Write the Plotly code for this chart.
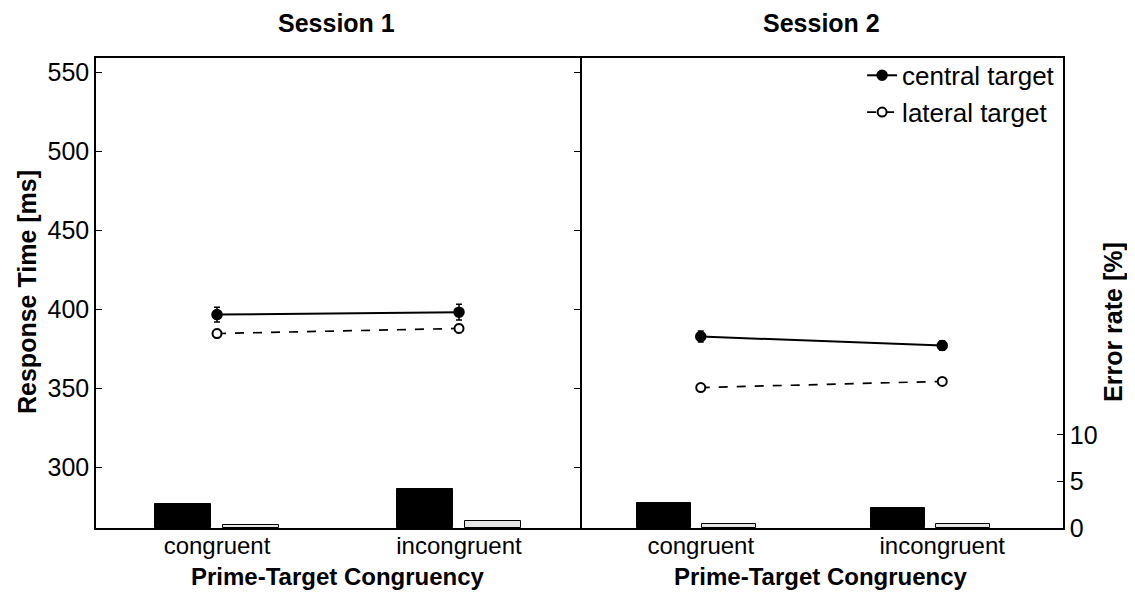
import plotly.graph_objects as go

# ---- data ----
categories = ["congruent", "incongruent"]
cat_pos = [1, 2]
sessions = ["Session 1", "Session 2"]

rt_central_s1 = [396.5, 398]
rt_central_s1_err = [4.7, 5.0]
rt_lateral_s1 = [384.5, 387.7]
rt_lateral_s1_err = [2.5, 2.5]

rt_central_s2 = [382.6, 376.9]
rt_central_s2_err = [3.5, 3]
rt_lateral_s2 = [350.3, 354.2]
rt_lateral_s2_err = [2, 2]

err_central_s1 = [2.6, 4.2]
err_lateral_s1 = [0.3, 0.75]
err_central_s2 = [2.7, 2.15]
err_lateral_s2 = [0.43, 0.43]

rt_ticks = [300, 350, 400, 450, 500, 550]
err_ticks = [0, 5, 10]

FONT = "Liberation Sans, Arial, sans-serif"
fig = go.Figure()

# bars (error rate)
for xa, ya, c, l in [("x", "y3", err_central_s1, err_lateral_s1),
                      ("x3", "y4", err_central_s2, err_lateral_s2)]:
    fig.add_trace(go.Bar(x=cat_pos, y=c, xaxis=xa, yaxis=ya, offset=-0.255, width=0.23,
                         marker=dict(color="black", line=dict(color="black", width=1)),
                         showlegend=False))
    fig.add_trace(go.Bar(x=cat_pos, y=l, xaxis=xa, yaxis=ya, offset=0.025, width=0.23,
                         marker=dict(color="#e6e6e6", line=dict(color="black", width=1)),
                         showlegend=False))

# lines (RT)
for xa, ya, cen, cen_e, lat, lat_e, show in [
        ("x", "y", rt_central_s1, rt_central_s1_err, rt_lateral_s1, rt_lateral_s1_err, False),
        ("x2", "y2", rt_central_s2, rt_central_s2_err, rt_lateral_s2, rt_lateral_s2_err, True)]:
    fig.add_trace(go.Scatter(x=cat_pos, y=cen, xaxis=xa, yaxis=ya, mode="lines+markers",
                             name="central target", showlegend=show,
                             line=dict(color="black", width=2),
                             marker=dict(symbol="circle", size=10, color="black",
                                         line=dict(color="black", width=1.5)),
                             error_y=dict(type="data", array=cen_e, color="black",
                                          thickness=1.5, width=3)))
    fig.add_trace(go.Scatter(x=cat_pos, y=lat, xaxis=xa, yaxis=ya, mode="lines+markers",
                             name="lateral target", showlegend=show,
                             line=dict(color="black", width=1.7, dash="dash"),
                             marker=dict(symbol="circle", size=9, color="white",
                                         line=dict(color="black", width=2)),
                             error_y=dict(type="data", array=lat_e, color="black",
                                          thickness=1.5, width=3)))

PW, PH = 967, 470
split = (580 - 96) / PW
tickf = dict(family=FONT, size=25, color="black")
xtickf = dict(family=FONT, size=24, color="black")
common_x = dict(showgrid=False, zeroline=False, showline=True, linecolor="black", linewidth=1.5,
                mirror=True, ticks="", tickvals=cat_pos, ticktext=categories, tickfont=xtickf,
                ticklabelstandoff=-5)
rt_range = [261.4, 558.9]

fig.update_layout(
    width=1135, height=597,
    margin=dict(l=88, r=80, t=50, b=77),
    plot_bgcolor="white", paper_bgcolor="white",
    font=dict(family=FONT, color="black"),
    xaxis=dict(domain=[0, split], range=[0.5, 2.5], **common_x),
    xaxis2=dict(domain=[split, 1], range=[0.5, 2.5], anchor="y2", **common_x),
    xaxis3=dict(domain=[split, 1], range=[0.502, 2.566], anchor="y4", overlaying="x2",
                visible=False),
    yaxis=dict(anchor="x", mirror="ticks", showgrid=False, zeroline=False, showline=True,
               linecolor="black", linewidth=1.5, range=rt_range, tickvals=rt_ticks,
               ticks="inside", ticklen=6, tickwidth=1, tickcolor="black", tickfont=tickf),
    yaxis2=dict(anchor="x2", range=rt_range, showgrid=False, zeroline=False, showline=False,
                showticklabels=False, ticks=""),
    yaxis3=dict(overlaying="y", anchor="x", range=[0, 50.5], showgrid=False, zeroline=False,
                showticklabels=False, ticks="", showline=False),
    yaxis4=dict(overlaying="y2", anchor="x2", side="right", range=[0, 50.5], showgrid=False,
                zeroline=False, tickvals=err_ticks, ticks="inside", ticklen=6, tickwidth=1,
                tickcolor="black", tickfont=tickf, showline=True, linecolor="black",
                linewidth=1.5, ticklabelstandoff=0),
    bargap=0,
    legend=dict(x=0.997, y=1.013, xanchor="right", yanchor="top", bgcolor="rgba(0,0,0,0)",
                font=dict(family=FONT, size=26, color="black"), tracegroupgap=0,
                itemwidth=30),
)

def px2paper(px, py):
    return (px - 96) / PW, (528 - py) / PH

anns = [
    ("<b>%s</b>" % sessions[0], 336, 23, 0, 25),
    ("<b>%s</b>" % sessions[1], 821, 23, 0, 25),
    ("<b>Prime-Target Congruency</b>", 338, 576, 0, 24),
    ("<b>Prime-Target Congruency</b>", 821, 576, 0, 24),
    ("<b>Response Time [ms]</b>", 27, 292, -90, 25),
    ("<b>Error rate [%]</b>", 1113, 322, -90, 25),
]
for text, px, py, ang, sz in anns:
    ax, ay = px2paper(px, py)
    fig.add_annotation(text=text, xref="paper", yref="paper", x=ax, y=ay,
                       showarrow=False, font=dict(family=FONT, size=sz, color="black"),
                       textangle=ang, xanchor="center", yanchor="middle")

fig.write_html("out.html")
